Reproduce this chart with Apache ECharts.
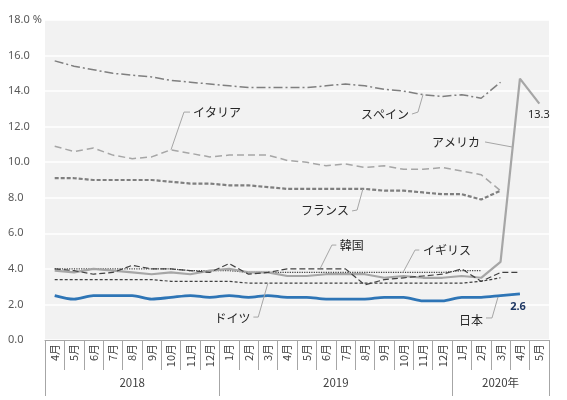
<!DOCTYPE html>
<html><head><meta charset="utf-8">
<script src="https://cdn.jsdelivr.net/npm/echarts@6/dist/echarts.min.js"></script>
<style>html,body{margin:0;padding:0;background:#fff}#c{width:567px;height:400px}</style>
</head><body><div id="c"></div>
<script>
const months = ['4月','5月','6月','7月','8月','9月','10月','11月','12月',
  '1月','2月','3月','4月','5月','6月','7月','8月','9月','10月','11月','12月',
  '1月','2月','3月','4月','5月'];
const yearLabels = ['2018','2019','2020年'];
const yearBounds = [0, 9, 21, 26];
const yTicks = [0,2,4,6,8,10,12,14,16,18];

const spain  = [15.7,15.4,15.2,15.0,14.9,14.8,14.6,14.5,14.4,14.3,14.2,14.2,14.2,14.2,14.3,14.4,14.3,14.1,14.0,13.8,13.7,13.8,13.6,14.5];
const italy  = [10.9,10.6,10.8,10.4,10.2,10.3,10.7,10.5,10.3,10.4,10.4,10.4,10.1,10.0,9.8,9.9,9.7,9.8,9.6,9.6,9.7,9.5,9.3,8.4];
const france = [9.1,9.1,9.0,9.0,9.0,9.0,8.9,8.8,8.8,8.7,8.7,8.6,8.5,8.5,8.5,8.5,8.5,8.4,8.4,8.3,8.2,8.2,7.9,8.4];
const usa    = [3.9,3.8,4.0,3.9,3.8,3.7,3.8,3.7,3.9,4.0,3.8,3.8,3.6,3.6,3.7,3.7,3.7,3.5,3.6,3.5,3.5,3.6,3.5,4.4,14.7,13.3];
const korea  = [4.0,3.9,3.7,3.8,4.2,4.0,4.0,3.9,3.8,4.3,3.7,3.8,4.0,4.0,4.0,4.0,3.1,3.4,3.5,3.6,3.7,4.0,3.3,3.8,3.8];
const uk     = [4.0,4.0,4.0,4.0,4.0,4.0,4.0,3.9,3.9,3.9,3.8,3.8,3.8,3.8,3.8,3.8,3.8,3.8,3.8,3.8,3.8,3.9,3.9];
const germany= [3.4,3.4,3.4,3.4,3.4,3.4,3.3,3.3,3.3,3.3,3.2,3.2,3.2,3.2,3.2,3.2,3.2,3.2,3.2,3.2,3.2,3.2,3.3,3.5];
const japan  = [2.5,2.3,2.5,2.5,2.5,2.3,2.4,2.5,2.4,2.5,2.4,2.5,2.4,2.4,2.3,2.3,2.3,2.4,2.4,2.2,2.2,2.4,2.4,2.5,2.6];

// annotations: text anchor and leader points in (category index, value)
const notes = [
  {text:'イタリア', at:[7.13,12.82], align:'left',  pts:[[6.98,12.82],[6.67,12.82],[6.0,10.7]]},
  {text:'スペイン', at:[18.28,12.71], align:'right', pts:[[18.43,12.71],[18.74,12.82],[19.0,13.8]]},
  {text:'アメリカ', at:[21.94,11.14], align:'right', pts:[[22.2,11.14],[23.63,10.85]]},
  {text:'フランス', at:[15.18,7.26], align:'right', pts:[[15.34,7.26],[15.6,7.31],[15.9,8.5]]},
  {text:'韓国', at:[14.7,5.34], align:'left', pts:[[14.53,5.34],[14.3,5.34],[13.7,4.03]]},
  {text:'イギリス', at:[19.0,5.06], align:'left', pts:[[18.81,5.06],[18.59,5.06],[17.97,3.8]]},
  {text:'ドイツ', at:[10.1,1.24], align:'right', pts:[[10.25,1.29],[10.5,1.29],[11.0,3.2]]},
  {text:'日本', at:[22.1,1.12], align:'right', pts:[[22.25,1.24],[22.56,1.24],[22.87,2.42]]}
];
const valueNotes = [
  {text:'2.6', at:[23.9,1.86], color:'#1f3864', weight:'bold'},
  {text:'13.3', at:[24.98,12.65], color:'#262626', weight:'normal'}
];

const chart = echarts.init(document.getElementById('c'));
const jp = "'Noto Sans CJK JP', sans-serif";
function line(name, data, color, width, type, smooth){
  return {name, type:'line', data, symbol:'none', smooth: smooth||false, xAxisIndex:0, yAxisIndex:0,
    lineStyle:{color, width, type}, emphasis:{disabled:true}, z: 3};
}
chart.setOption({
  animation:false,
  grid:{left:45, right:18, top:20, bottom:60, show:true, backgroundColor:'#f2f2f2', borderWidth:0},
  xAxis:[{
    type:'category', data:months, boundaryGap:true, position:'bottom',
    axisLine:{show:true, lineStyle:{color:'#a6a6a6', width:1}},
    axisTick:{show:true, interval:0, length:30, lineStyle:{color:'#a6a6a6'}},
    axisLabel:{interval:0, rotate:90, margin:4, fontSize:11, color:'#404040', fontFamily:jp},
    splitLine:{show:false}
  },{
    type:'value', min:0, max:26, position:'bottom',
    axisLine:{show:false},
    axisTick:{show:true, customValues:yearBounds, length:56, lineStyle:{color:'#a6a6a6'}},
    axisLabel:{show:true, customValues:[4.5,15,23.5], margin:37, fontSize:11.5, color:'#404040', fontFamily:jp,
      formatter:function(v){ const i=[4.5,15,23.5].indexOf(v); return i>=0?yearLabels[i]:''; }},
    splitLine:{show:false}
  }],
  yAxis:{
    type:'value', min:0, max:18, interval:2,
    axisLine:{show:false}, axisTick:{show:false},
    axisLabel:{align:'left', margin:37, fontSize:11, color:'#595959', fontFamily:"'Noto Sans', sans-serif",
      formatter:function(v){ return v===18 ? '18.0 %' : v.toFixed(1); }},
    splitLine:{show:true, lineStyle:{color:'#ffffff', width:1.5}}
  },
  series:[
    line('スペイン', spain, '#7f7f7f', 1.5, [9,3,2,3]),
    line('イタリア', italy, '#a6a6a6', 1.5, [7,4]),
    line('フランス', france, '#7f7f7f', 2.2, [4,2]),
    line('ドイツ', germany, '#404040', 1.2, [3,2]),
    line('イギリス', uk, '#404040', 1.2, [1.2,1.2]),
    line('アメリカ', usa, '#a6a6a6', 2.2, 'solid'),
    line('韓国', korea, '#404040', 1.2, [6,3]),
    line('日本', japan, '#2e75b6', 2.8, 'solid', 0.3)
  ]
});

function px(p){ return chart.convertToPixel({xAxisIndex:1, yAxisIndex:0}, [p[0]+0.5, p[1]]); }
const graphics = [];
notes.forEach(n=>{
  const a = px(n.at);
  graphics.push({type:'polyline', silent:true, z:10, shape:{points:n.pts.map(px)}, style:{stroke:'#a6a6a6', lineWidth:1, fill:null}});
  graphics.push({type:'text', silent:true, z:10, x:a[0], y:a[1], style:{text:n.text, fill:'#262626', font:"12px 'Noto Sans CJK JP'", align:n.align, verticalAlign:'middle'}});
});
valueNotes.forEach(n=>{
  const a = px(n.at);
  graphics.push({type:'text', silent:true, z:10, x:a[0], y:a[1], style:{text:n.text, fill:n.color, font:n.weight+" 11px 'Noto Sans'", align:'center', verticalAlign:'middle'}});
});
chart.setOption({graphic:graphics});
</script></body></html>
